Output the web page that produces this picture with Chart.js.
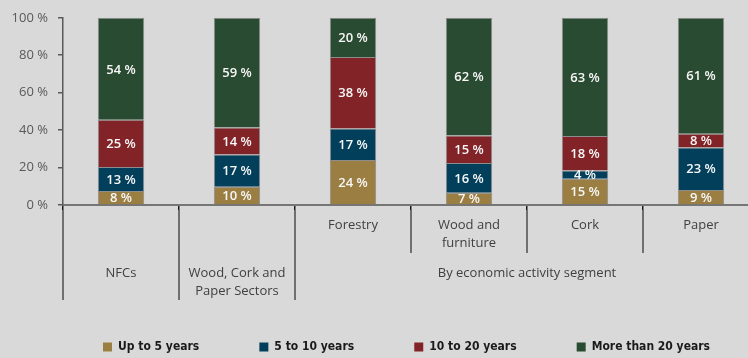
<!DOCTYPE html>
<html>
<head>
<meta charset="utf-8">
<script src="https://cdn.jsdelivr.net/npm/chart.js@4.4.1/dist/chart.umd.min.js"></script>
<style>
  html, body { margin: 0; padding: 0; background: #d9d9d9; overflow: hidden; }
  canvas { display: block; }
</style>
</head>
<body>
<canvas id="ageChart"></canvas>
<script>
// --- Data ---
const categories = ['NFCs', 'Wood, Cork and Paper Sectors', 'Forestry', 'Wood and furniture', 'Cork', 'Paper'];
const categoryLines = [['NFCs'], ['Wood, Cork and', 'Paper Sectors'], ['Forestry'], ['Wood and', 'furniture'], ['Cork'], ['Paper']];
const groupLabel = 'By economic activity segment';
const groupStart = 2; // Forestry..Paper sit under the group label

const seriesNames = ['Up to 5 years', '5 to 10 years', '10 to 20 years', 'More than 20 years'];
const seriesColors = ['#9b7e41', '#023f5b', '#822327', '#294b31'];

// bar heights
const upTo5 = [7.5, 9.8, 24.1, 6.6, 14.0, 8.0];
const from5to10 = [12.8, 17.2, 16.7, 15.8, 4.4, 22.7];
const from10to20 = [25.2, 14.4, 38.3, 14.7, 18.4, 7.4];
const over20 = [54.5, 58.6, 20.9, 62.9, 63.2, 61.9];

// printed labels
const upTo5Labels = [8, 10, 24, 7, 15, 9];
const from5to10Labels = [13, 17, 17, 16, 4, 23];
const from10to20Labels = [25, 14, 38, 15, 18, 8];
const over20Labels = [54, 59, 20, 62, 63, 61];

const yTicks = [0, 20, 40, 60, 80, 100];

const seriesValues = [upTo5, from5to10, from10to20, over20];
const seriesLabels = [upTo5Labels, from5to10Labels, from10to20Labels, over20Labels];

// --- Layout numbers ---
const plotLeft = 63, plotRight = 759, plotTop = 17, plotBottom = 205;
const legendStart = 103, legendEnd = 710, legendMid = 347;

const canvas = document.getElementById('ageChart');
const ctx = canvas.getContext('2d');

// pick a narrow bold font for the legend (whatever is installed)
function hasFont(name) {
    ctx.font = 'bold 40px monospace';
    const w0 = ctx.measureText('abcdefgWMil 0123').width;
    ctx.font = `bold 40px "${name}", monospace`;
    return ctx.measureText('abcdefgWMil 0123').width !== w0;
}
const legendFamily = ['Liberation Sans Narrow', 'DejaVu Sans Condensed', 'Roboto Condensed', 'Roboto', 'Liberation Sans']
    .find(hasFont) || 'sans-serif';
ctx.font = `bold 16px "${legendFamily}"`;
let legendSize = Math.max(11, Math.min(16, Math.round(16 * 122 / ctx.measureText('More than 20 years').width)));
ctx.font = `bold ${legendSize}px "${legendFamily}"`;
const itemsWidth = seriesNames.reduce((s, n) => s + 9 + legendSize / 2 + ctx.measureText(n).width, 0);
const legendPad = Math.max(10, ((legendEnd - legendStart) - itemsWidth) / 3);
const canvasW = 2 * legendStart + itemsWidth + 3 * legendPad;
const canvasH = Math.round(legendMid + 10 + legendSize / 2);
const legendTop = canvasH - (legendSize + legendPad + 10);
canvas.width = canvasW;
canvas.height = canvasH;

// --- Plugins ---
const barLabels = {
    id: 'barLabels',
    afterDatasetsDraw(chart) {
        const c = chart.ctx;
        c.save();
        c.font = '600 13px "Open Sans"';
        c.fillStyle = '#f7f7f7';
        c.textAlign = 'center';
        c.textBaseline = 'middle';
        chart.data.datasets.forEach((ds, di) => {
            chart.getDatasetMeta(di).data.forEach((bar, i) => {
                c.fillText(seriesLabels[di][i] + ' %', bar.x, (bar.y + bar.base) / 2 + 1);
            });
        });
        c.restore();
    }
};

// two-level category axis: dividers + text
const axisLabels = {
    id: 'axisLabels',
    afterDraw(chart) {
        const c = chart.ctx;
        const x = chart.scales.x;
        const half = (x.getPixelForValue(1) - x.getPixelForValue(0)) / 2;
        const y0 = x.top;
        c.save();
        c.strokeStyle = '#4d4d4d';
        c.lineWidth = 1.5;
        for (let i = 0; i < categories.length; i++) {
            const left = x.getPixelForValue(i) - half;
            const len = i <= groupStart ? 95 : 48;
            c.beginPath();
            c.moveTo(left, y0 + 5);
            c.lineTo(left, y0 + len);
            c.stroke();
        }
        c.font = '13px "Open Sans"';
        c.fillStyle = '#404040';
        c.textAlign = 'center';
        c.textBaseline = 'middle';
        categoryLines.forEach((lines, i) => {
            const cx = x.getPixelForValue(i);
            const top = i >= groupStart ? y0 + 20 : y0 + 68;
            lines.forEach((t, j) => c.fillText(t, cx, top + j * 18));
        });
        const gx = (x.getPixelForValue(groupStart) - half + x.right) / 2;
        c.fillText(groupLabel, gx, y0 + 68);
        c.restore();
    }
};

// --- Chart ---
new Chart(ctx, {
    type: 'bar',
    data: {
        labels: categories,
        datasets: seriesNames.map((name, i) => ({
            label: name,
            data: seriesValues[i],
            backgroundColor: seriesColors[i],
            borderColor: '#8d8d8d',
            borderWidth: 1,
            barPercentage: 0.4,
            categoryPercentage: 1
        }))
    },
    options: {
        responsive: false,
        animation: false,
        devicePixelRatio: 1,
        layout: { padding: { top: plotTop, left: 0, right: 0, bottom: 0 } },
        plugins: {
            tooltip: { enabled: false },
            legend: {
                position: 'bottom',
                labels: {
                    boxWidth: 9,
                    boxHeight: 9,
                    padding: legendPad,
                    color: '#1a1a1a',
                    font: { family: `"${legendFamily}"`, size: legendSize, weight: 'bold' },
                    generateLabels: (chart) => Chart.defaults.plugins.legend.labels.generateLabels(chart)
                        .map(l => Object.assign(l, { strokeStyle: l.fillStyle, lineWidth: 0 }))
                }
            }
        },
        scales: {
            x: {
                stacked: true,
                grid: { display: true, drawOnChartArea: false, drawTicks: true, tickLength: 5, color: '#1a1a1a', lineWidth: 1.5, offset: true },
                border: { color: '#767676', width: 2 },
                ticks: { display: false },
                afterFit: (s) => { s.height = legendTop - plotBottom; }
            },
            y: {
                stacked: true,
                min: 0,
                max: 100,
                afterBuildTicks: (s) => { s.ticks = yTicks.map(v => ({ value: v })); },
                ticks: { callback: v => v + ' %', color: '#595959', padding: 10, font: { family: '"Open Sans"', size: 13 } },
                grid: { drawOnChartArea: false, tickLength: 5, color: '#595959', lineWidth: 1.5 },
                border: { color: '#595959', width: 1.5 },
                afterFit: (s) => { s.width = plotLeft; }
            },
            yRight: {
                position: 'right',
                ticks: { display: false },
                grid: { display: false },
                border: { display: false },
                afterFit: (s) => { s.width = canvasW - plotRight; }
            }
        }
    },
    plugins: [barLabels, axisLabels]
});
</script>
</body>
</html>
